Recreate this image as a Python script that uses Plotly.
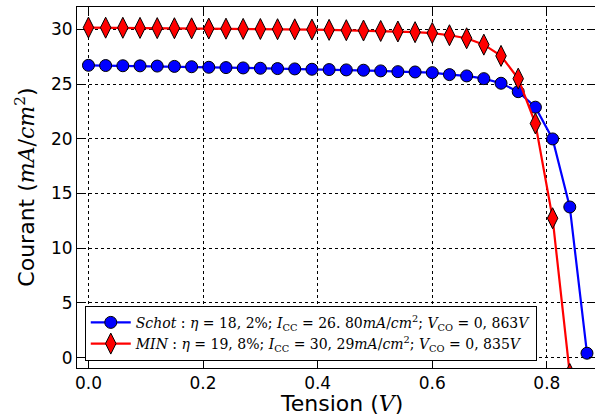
import plotly.graph_objects as go

tension_schot = [0.00, 0.03, 0.06, 0.09, 0.12, 0.15, 0.18, 0.21, 0.24, 0.27,
                 0.30, 0.33, 0.36, 0.39, 0.42, 0.45, 0.48, 0.51, 0.54, 0.57,
                 0.60, 0.63, 0.66, 0.69, 0.72, 0.75, 0.78, 0.81, 0.84, 0.87]
courant_schot = [26.72, 26.70, 26.68, 26.67, 26.65, 26.62, 26.59, 26.54, 26.51, 26.48,
                 26.45, 26.42, 26.39, 26.36, 26.33, 26.30, 26.27, 26.21, 26.14, 26.11,
                 26.05, 25.87, 25.75, 25.50, 25.08, 24.31, 22.89, 19.99, 13.77, 0.40]

tension_min = [0.00, 0.03, 0.06, 0.09, 0.12, 0.15, 0.18, 0.21, 0.24, 0.27,
               0.30, 0.33, 0.36, 0.39, 0.42, 0.45, 0.48, 0.51, 0.54, 0.57,
               0.60, 0.63, 0.66, 0.69, 0.72, 0.75, 0.78, 0.81, 0.84]
courant_min = [30.17, 30.16, 30.15, 30.14, 30.12, 30.11, 30.10, 30.08, 30.07, 30.05,
               30.04, 30.02, 30.01, 29.99, 29.96, 29.93, 29.90, 29.86, 29.81, 29.75,
               29.67, 29.47, 29.19, 28.61, 27.58, 25.50, 21.40, 12.74, -1.50]

label_schot = ("<i>Schot</i> : <i>η</i> = 18, 2%; <i>I</i><sub>CC</sub> = 26. 80<i>mA</i>/<i>cm</i><sup>2</sup>; "
               "<i>V</i><sub>CO</sub> = 0, 863<i>V</i>")
label_min = ("<i>MIN</i> : <i>η</i> = 19, 8%; <i>I</i><sub>CC</sub> = 30, 29<i>mA</i>/<i>cm</i><sup>2</sup>; "
             "<i>V</i><sub>CO</sub> = 0, 835<i>V</i>")

x_ticks = [0.0, 0.2, 0.4, 0.6, 0.8]
x_ticklabels = ["0.0", "0.2", "0.4", "0.6", "0.8"]
y_ticks = [0, 5, 10, 15, 20, 25, 30]

x_title = "Tension (<span style=\"font-family:'DejaVu Serif'\"><i>V</i></span>)"
y_title = "Courant (<span style=\"font-family:'DejaVu Serif'\"><i>mA</i>/<i>cm</i><sup>2</sup></span>)"

fig = go.Figure()
fig.add_trace(go.Scatter(
    x=tension_schot, y=courant_schot, mode="lines+markers", name=label_schot,
    line=dict(color="#0000ff", width=2.2),
    marker=dict(symbol="circle", size=12, color="#0000ff", line=dict(color="black", width=1)),
    cliponaxis=True,
))
fig.add_trace(go.Scatter(
    x=tension_min, y=courant_min, mode="lines+markers", name=label_min,
    line=dict(color="#ff0000", width=2.2),
    marker=dict(symbol="diamond-tall", size=15, color="#ff0000", line=dict(color="black", width=1)),
    cliponaxis=True,
))

axis_common = dict(
    showline=True, linecolor="black", linewidth=1, mirror="allticks",
    ticks="inside", ticklen=6, tickcolor="black",
    showgrid=True, gridcolor="black", griddash="dot", gridwidth=1,
    zeroline=False, automargin=False,
    tickfont=dict(family="DejaVu Sans", size=17, color="black"),
)

fig.update_xaxes(range=[-0.02, 0.884], tickvals=x_ticks, ticktext=x_ticklabels, **axis_common)
fig.update_yaxes(range=[-0.95, 32.05], tickvals=y_ticks, **axis_common)

fig.add_annotation(
    text=x_title, xref="paper", yref="paper", x=0.51, y=-0.097,
    xanchor="center", yanchor="middle", showarrow=False,
    font=dict(family="DejaVu Sans", size=22, color="black"),
)
fig.add_annotation(
    text=y_title, xref="paper", yref="paper", x=-0.102, y=0.5,
    xanchor="center", yanchor="middle", textangle=-90, showarrow=False,
    font=dict(family="DejaVu Sans", size=22, color="black"),
)

fig.update_layout(
    width=595, height=416,
    margin=dict(l=77, r=0, t=7, b=48),
    paper_bgcolor="white", plot_bgcolor="white",
    showlegend=True,
    legend=dict(
        x=0.015, y=0.02, xanchor="left", yanchor="bottom",
        bgcolor="white", bordercolor="black", borderwidth=1,
        font=dict(family="DejaVu Serif", size=14, color="black"),
        itemwidth=40, tracegroupgap=0,
    ),
)

fig.write_html(
    "out.html",
    config={"displayModeBar": False},
    post_script="document.body.style.margin='0';document.body.style.padding='0';document.body.style.overflow='hidden';",
)
